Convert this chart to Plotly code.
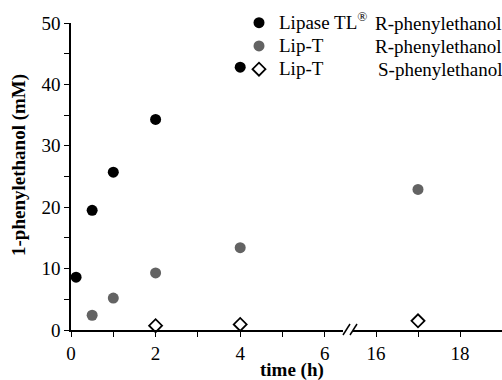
import plotly.graph_objects as go

# ---- data ----
time_tl = [0.12, 0.5, 1, 2, 4]
r_tl = [8.6, 19.5, 25.7, 34.3, 42.8]

time_lipt_r = [0.5, 1, 2, 4, 17]
r_lipt = [2.4, 5.2, 9.3, 13.4, 22.9]

time_lipt_s = [2, 4, 17]
s_lipt = [0.7, 0.9, 1.5]

enzyme_names = ["Lipase TL<sup>®</sup>", "Lip-T", "Lip-T"]
product_names = ["R-phenylethanol", "R-phenylethanol", "S-phenylethanol"]

BREAK = 10  # times above this go on the right-hand axis segment

FONT = "Liberation Serif, Times New Roman, serif"

series = [
    (time_tl, r_tl, dict(symbol="circle", size=11, color="#000000",
                         line=dict(width=0))),
    (time_lipt_r, r_lipt, dict(symbol="circle", size=11, color="#636363",
                               line=dict(width=0))),
    (time_lipt_s, s_lipt, dict(symbol="diamond-open", size=10, color="#000000",
                               line=dict(width=1.8, color="#000000"))),
]

fig = go.Figure()
for i, (tx, vy, mk) in enumerate(series):
    left = [(t, v) for t, v in zip(tx, vy) if t < BREAK]
    right = [(t, v) for t, v in zip(tx, vy) if t >= BREAK]
    fig.add_trace(go.Scatter(
        x=[p[0] for p in left], y=[p[1] for p in left],
        mode="markers", marker=mk,
        name='<span style="font-size:19px">' + enzyme_names[i] + '</span>',
        legendgroup=str(i), showlegend=True, cliponaxis=False,
        xaxis="x", yaxis="y"))
    fig.add_trace(go.Scatter(
        x=[p[0] for p in right], y=[p[1] for p in right],
        mode="markers", marker=mk, name=enzyme_names[i],
        legendgroup=str(i), showlegend=False, cliponaxis=False,
        xaxis="x2", yaxis="y"))

# geometry (pixels)
L, R, T, B = 71, 0, 23, 50
W, H = 502, 380
pw, ph = W - L - R, H - T - B


def px2x(px):
    return (px - L) / pw


def py2y(py):
    return (H - B - py) / ph


axis_common = dict(
    showline=True, linecolor="black", linewidth=1.5,
    ticks="outside", ticklen=5, tickwidth=1.3, tickcolor="black",
    showgrid=False, zeroline=False,
    tickfont=dict(family=FONT, size=19, color="black"),
)
minor_common = dict(ticks="outside", ticklen=5, tickwidth=1.3,
                    tickcolor="black", showgrid=False)

fig.update_layout(
    width=W, height=H,
    margin=dict(l=L, r=R, t=T, b=B),
    paper_bgcolor="white", plot_bgcolor="white",
    font=dict(family=FONT, size=18, color="black"),
    xaxis=dict(domain=[0, px2x(343)], range=[0, (343 - 71) / 42.3],
               anchor="y", tick0=0, dtick=2,
               minor=dict(tick0=0, dtick=1, **minor_common),
               **axis_common),
    xaxis2=dict(domain=[px2x(353), 1], range=[16 - (376 - 353) / 42, 19],
                anchor="y", tick0=16, dtick=2,
                minor=dict(tick0=16, dtick=1, **minor_common),
                **axis_common),
    yaxis=dict(range=[0, 50], tick0=0, dtick=10,
               minor=dict(tick0=0, dtick=5, **minor_common),
               **axis_common),
    showlegend=True,
    legend=dict(x=px2x(239), y=py2y(6), xanchor="left", yanchor="top",
                bgcolor="rgba(0,0,0,0)", borderwidth=0,
                font=dict(family=FONT, size=15.6, color="black"),
                tracegroupgap=0, itemwidth=30),
)

# second legend column
row_y = [23.3, 46.7, 70]
col_x = [373, 373, 376]
for name, yy, xx in zip(product_names, row_y, col_x):
    fig.add_annotation(text=name, x=px2x(xx), y=py2y(yy), xref="paper",
                       yref="paper", xanchor="left", yanchor="middle",
                       showarrow=False,
                       font=dict(family=FONT, size=19, color="black"))

# axis titles
fig.add_annotation(text="<b>time (h)</b>", x=px2x(292), y=py2y(370),
                   xref="paper", yref="paper", xanchor="center",
                   yanchor="middle", showarrow=False,
                   font=dict(family=FONT, size=19, color="black"))
fig.add_annotation(text="<b>1-phenylethanol (mM)</b>", x=px2x(19),
                   y=py2y(165), xref="paper", yref="paper",
                   xanchor="center", yanchor="middle", textangle=-90,
                   showarrow=False,
                   font=dict(family=FONT, size=19, color="black"))

# axis break marks "//"
for x0 in (343, 350):
    fig.add_shape(type="line", xref="paper", yref="paper",
                  x0=px2x(x0), x1=px2x(x0 + 7),
                  y0=py2y(335), y1=py2y(324),
                  line=dict(color="black", width=1.5))

fig.write_html("out.html", config={"displayModeBar": False},
               post_script="document.body.style.margin='0';")
